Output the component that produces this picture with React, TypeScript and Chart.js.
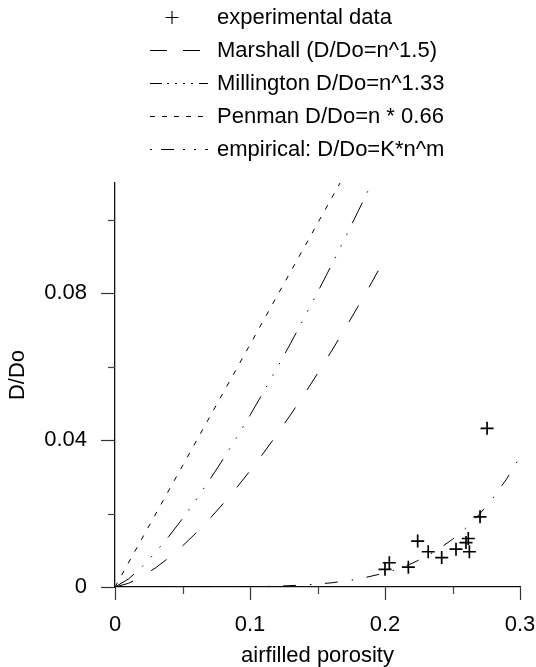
import React, { useEffect, useRef } from "react";
import { Chart, registerables } from "chart.js";

Chart.register(...registerables);

// ---- data ----
const expPorosity = [0.2, 0.2032, 0.2173, 0.2242, 0.232, 0.242, 0.2526, 0.26, 0.2617, 0.2625, 0.2704, 0.2756];
const expDiffusivity = [0.0048, 0.0066, 0.0054, 0.0125, 0.0096, 0.008, 0.0103, 0.0121, 0.0132, 0.0096, 0.0191, 0.0432];

const marshallPorosity = [0, 0.01, 0.02, 0.03, 0.04, 0.05, 0.06, 0.07, 0.08, 0.09, 0.1, 0.11, 0.12, 0.13, 0.14, 0.15, 0.16, 0.17, 0.18, 0.19, 0.2];
const marshallValues = [0, 0.001, 0.00283, 0.0052, 0.008, 0.01118, 0.0147, 0.01852, 0.02263, 0.027, 0.03162, 0.03648, 0.04157, 0.04687, 0.05238, 0.0581, 0.064, 0.07009, 0.07637, 0.08282, 0.08944];

const millingtonPorosity = [0, 0.01, 0.02, 0.03, 0.04, 0.05, 0.06, 0.07, 0.08, 0.09, 0.1, 0.11, 0.12, 0.13, 0.14, 0.15, 0.16, 0.17, 0.18, 0.19];
const millingtonValues = [0, 0.00219, 0.0055, 0.00943, 0.01383, 0.01861, 0.02371, 0.0291, 0.03476, 0.04066, 0.04677, 0.05309, 0.05961, 0.0663, 0.07318, 0.0802, 0.08739, 0.09473, 0.10222, 0.10985];

const penmanPorosity = [0, 0.05, 0.1, 0.1667];
const penmanValues = [0, 0.033, 0.066, 0.11];

const empiricalPorosity = [0, 0.05, 0.1, 0.12, 0.14, 0.16, 0.18, 0.2, 0.21, 0.22, 0.23, 0.24, 0.25, 0.26, 0.27, 0.28, 0.29, 0.3];
const empiricalValues = [0, 0.000002, 0.000084, 0.000229, 0.000535, 0.00112, 0.00213, 0.00381, 0.00498, 0.00643, 0.00821, 0.01038, 0.01299, 0.01611, 0.01983, 0.02422, 0.02938, 0.0354];

const seriesLabels = [
  "experimental data",
  "Marshall (D/Do=n^1.5)",
  "Millington D/Do=n^1.33",
  "Penman D/Do=n * 0.66",
  "empirical: D/Do=K*n^m",
];

const xMajorTicks = [0, 0.1, 0.2, 0.3];
const xTickLabels = ["0", "0.1", "0.2", "0.3"];
const xMinorTicks = [0.05, 0.15, 0.25];
const yMajorTicks = [0, 0.04, 0.08];
const yTickLabels = ["0", "0.04", "0.08"];
const yMinorTicks = [0.02, 0.06, 0.1];

const xTitle = "airfilled porosity";
const yTitle = "D/Do";

// ---- styling ----
const FONT_FAMILY = "'Liberation Sans', Arial, Helvetica, sans-serif";
const FONT_SIZE = 22;

const zip = (xs: number[], ys: number[]) => xs.map((x, i) => ({ x, y: ys[i] }));

const minorTicksPlugin = {
  id: "minorTicks",
  afterDraw(chart: any) {
    const { ctx, chartArea, scales } = chart;
    const x = scales.x;
    const y = scales.y;
    ctx.save();
    ctx.strokeStyle = "#444";
    ctx.lineWidth = 1.2;
    ctx.setLineDash([]);
    xMinorTicks.forEach((v) => {
      const px = Math.round(x.getPixelForValue(v)) + 0.5;
      ctx.beginPath();
      ctx.moveTo(px, chartArea.bottom);
      ctx.lineTo(px, chartArea.bottom + 7);
      ctx.stroke();
    });
    yMinorTicks.forEach((v) => {
      const py = Math.round(y.getPixelForValue(v)) + 0.5;
      ctx.beginPath();
      ctx.moveTo(chartArea.left, py);
      ctx.lineTo(chartArea.left - 7, py);
      ctx.stroke();
    });
    // y axis title, drawn slightly above the centre like the reference
    ctx.fillStyle = "#000";
    ctx.font = `${FONT_SIZE}px ${FONT_FAMILY}`;
    ctx.textAlign = "center";
    ctx.textBaseline = "middle";
    ctx.translate(18, (chartArea.top + chartArea.bottom) / 2 - 10);
    ctx.rotate(-Math.PI / 2);
    ctx.fillText(yTitle, 0, 0);
    ctx.restore();
  },
};

const legendPlugin = {
  id: "customLegend",
  afterDraw(chart: any) {
    const { ctx } = chart;
    const rowTop = 16.5;
    const rowStep = 33.1;
    const sampleStart = 150;
    const sampleEnd = 208;
    const textX = 217;
    ctx.save();
    chart.data.datasets.forEach((ds: any, i: number) => {
      const yy = Math.round(rowTop + i * rowStep) + 0.5;
      ctx.strokeStyle = "#000";
      if (ds.showLine === false) {
        const cx = 172;
        const r = 6.5;
        ctx.setLineDash([]);
        ctx.lineWidth = 1.1;
        ctx.beginPath();
        ctx.moveTo(cx - r, yy);
        ctx.lineTo(cx + r, yy);
        ctx.moveTo(cx, yy - r);
        ctx.lineTo(cx, yy + r);
        ctx.stroke();
      } else {
        ctx.setLineDash(ds.legendDash || ds.borderDash || []);
        ctx.lineWidth = 1;
        ctx.beginPath();
        ctx.moveTo(sampleStart, yy);
        ctx.lineTo(sampleEnd, yy);
        ctx.stroke();
      }
      ctx.setLineDash([]);
      ctx.fillStyle = "#000";
      ctx.font = `${FONT_SIZE}px ${FONT_FAMILY}`;
      ctx.textAlign = "left";
      ctx.textBaseline = "middle";
      ctx.fillText(ds.label, textX, yy);
    });
    ctx.restore();
  },
};

export default function App() {
  const canvasRef = useRef<HTMLCanvasElement | null>(null);

  useEffect(() => {
    document.body.style.margin = "0";
    const canvas = canvasRef.current;
    if (!canvas) return;

    const font = { family: FONT_FAMILY, size: FONT_SIZE };

    const chart = new Chart(canvas, {
      type: "scatter",
      data: {
        datasets: [
          {
            label: seriesLabels[0],
            data: zip(expPorosity, expDiffusivity),
            showLine: false,
            pointStyle: "cross",
            pointRadius: 6.5,
            pointBorderWidth: 1.7,
            borderColor: "#000",
            backgroundColor: "#000",
          },
          {
            label: seriesLabels[1],
            data: zip(marshallPorosity, marshallValues),
            showLine: true,
            pointRadius: 0,
            borderColor: "#000",
            borderWidth: 1,
            borderDash: [19, 21],
            legendDash: [17, 16],
          },
          {
            label: seriesLabels[2],
            data: zip(millingtonPorosity, millingtonValues),
            showLine: true,
            pointRadius: 0,
            borderColor: "#000",
            borderWidth: 1,
            borderDash: [23, 11, 1.5, 11.5, 1.5, 11.5, 1.5, 11.5],
            legendDash: [12, 5, 2, 6, 2, 6, 2, 6, 2, 6],
          },
          {
            label: seriesLabels[3],
            data: zip(penmanPorosity, penmanValues),
            showLine: true,
            pointRadius: 0,
            borderColor: "#000",
            borderWidth: 1,
            borderDash: [5, 8.5],
            legendDash: [5, 7],
          },
          {
            label: seriesLabels[4],
            data: zip(empiricalPorosity, empiricalValues),
            showLine: true,
            pointRadius: 0,
            borderColor: "#000",
            borderWidth: 1,
            borderDash: [13, 14, 1.5, 13.5],
            legendDash: [2, 9, 13, 9, 2, 9],
          },
        ] as any,
      },
      options: {
        responsive: false,
        animation: false,
        events: [],
        layout: { padding: { top: 183, right: 16, left: 0, bottom: 0 } },
        plugins: {
          legend: { display: false },
          tooltip: { enabled: false },
        },
        scales: {
          x: {
            type: "linear",
            min: 0,
            max: 0.3,
            afterBuildTicks: (s: any) => {
              s.ticks = xMajorTicks.map((v) => ({ value: v }));
            },
            afterFit: (s: any) => {
              s.height = 80;
              s.paddingLeft = 0;
              s.paddingRight = 0;
            },
            grid: {
              drawOnChartArea: false,
              drawTicks: true,
              tickLength: 13,
              tickColor: "#333",
              tickWidth: 1.2,
            },
            border: { display: true, color: "#111", width: 1.3 },
            ticks: {
              callback: (v: any) => xTickLabels[xMajorTicks.indexOf(Number(v))] ?? "",
              padding: 12,
              font,
              color: "#000",
              maxRotation: 0,
              autoSkip: false,
            },
            title: {
              display: true,
              text: xTitle,
              font: { ...font, lineHeight: 1 },
              color: "#000",
              padding: 0,
            },
          },
          y: {
            type: "linear",
            min: 0,
            max: 0.11,
            afterBuildTicks: (s: any) => {
              s.ticks = yMajorTicks.map((v) => ({ value: v }));
            },
            afterFit: (s: any) => {
              s.width = 115;
              s.paddingTop = 0;
              s.paddingBottom = 0;
            },
            grid: {
              drawOnChartArea: false,
              drawTicks: true,
              tickLength: 14,
              tickColor: "#333",
              tickWidth: 1.2,
            },
            border: { display: true, color: "#111", width: 1.3 },
            ticks: {
              callback: (v: any) => yTickLabels[yMajorTicks.indexOf(Number(v))] ?? "",
              padding: 14,
              font,
              color: "#000",
              autoSkip: false,
            },
            title: { display: false },
          },
        },
      } as any,
      plugins: [minorTicksPlugin, legendPlugin],
    });

    return () => {
      chart.destroy();
    };
  }, []);

  return (
    <div style={{ width: 536, height: 667 }}>
      <canvas ref={canvasRef} width={536} height={667} style={{ display: "block", width: 536, height: 667 }} />
    </div>
  );
}
